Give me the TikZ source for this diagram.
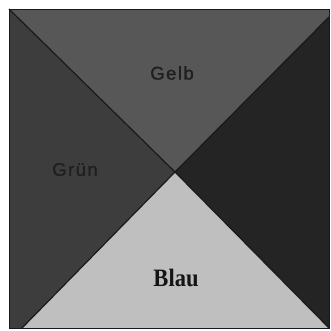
\documentclass[tikz,border=0pt]{standalone}
\usepackage{fontspec}
\newfontfamily\labfont[LetterSpace=8,FakeBold=1]{Liberation Sans}
\newfontfamily\blaufont{Liberation Serif}
\begin{document}
\begin{tikzpicture}[x=1pt,y=-1pt,
  tri/.style={draw=black!90,line width=1.2pt,line join=round},
  lab/.style={text=black!88,font=\labfont\fontsize{18.5}{18.5}\selectfont,inner sep=0pt},
  labb/.style={text=black!92,font=\blaufont\bfseries\fontsize{25}{25}\selectfont,inner sep=0pt}]
\useasboundingbox (0,0) rectangle (331,330);
\fill[white] (0,0) rectangle (331,330);
\coordinate (TL) at (9,9);
\coordinate (TR) at (329,9);
\coordinate (BR) at (329,328);
\coordinate (BL) at (9,328);
\coordinate (C) at (175,172);
\coordinate (TRd) at (329,17);
\coordinate (BLd) at (22,328);
% left (Grün)
\fill[black!76] (TL) -- (C) -- (BLd) -- (BL) -- cycle;
% top (Gelb)
\fill[black!66] (TL) -- (TR) -- (TRd) -- (C) -- cycle;
% right
\fill[black!86] (TRd) -- (BR) -- (C) -- cycle;
% bottom (Blau)
\fill[black!25] (BLd) -- (C) -- (BR) -- cycle;
\draw[tri] (TL) -- (C) -- (BR);
\draw[tri] (TRd) -- (C) -- (BLd);
\draw[black!90,line width=1pt] (TL) rectangle (BR);
\node[lab] (gelb) at (172,73) {Gelb};
\node[lab] (gruen) at (75,169.5) {Grün};
\node[labb] (blau) at (176,277.5) {\scalebox{0.9}[1]{Blau}};
\end{tikzpicture}
\end{document}
